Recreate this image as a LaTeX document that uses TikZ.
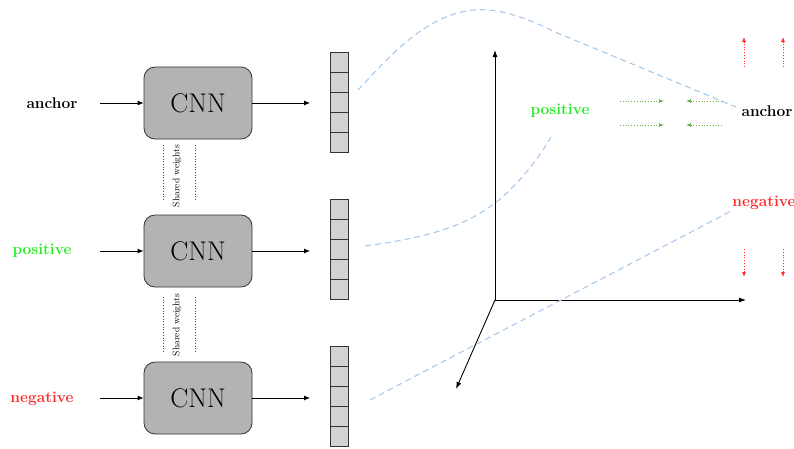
\documentclass[tikz,border=0pt]{standalone}
\usetikzlibrary{arrows.meta}
\definecolor{cnnfill}{HTML}{B3B3B3}
\definecolor{vecfill}{HTML}{D2D2D2}
\definecolor{posgreen}{HTML}{22EE22}
\definecolor{neared}{HTML}{FF2A2A}
\definecolor{dashblue}{HTML}{A9C9EA}
\definecolor{arrgreen}{HTML}{6AAF4A}
\tikzset{
  cnn/.style={draw=black!80, fill=cnnfill, rounded corners=11pt, minimum width=108pt, minimum height=72pt, line width=0.8pt, font=\fontsize{27}{30}\selectfont},
  cell/.style={draw=black!80, fill=vecfill, minimum width=18pt, minimum height=20pt, line width=0.8pt, inner sep=0pt},
  lbl/.style={font=\fontsize{15.5}{18}\selectfont\bfseries},
  flow/.style={-{Latex[length=6pt,width=5pt]}, line width=0.8pt},
  share/.style={dotted, line width=0.7pt, black!70},
  swtext/.style={rotate=90, font=\fontsize{9.5}{11}\selectfont, inner sep=0pt},
  emb/.style={dashblue, line width=1.1pt, dash pattern=on 6pt off 4pt},
  axis/.style={-{Latex[length=7pt,width=5pt]}, line width=0.9pt},
  pull/.style={dotted, arrgreen, line width=0.8pt, -{Latex[length=5pt,width=4pt]}},
  push/.style={dotted, neared, line width=0.8pt, -{Latex[length=5pt,width=4pt]}},
}
\begin{document}
\begin{tikzpicture}[x=1pt,y=-1pt]
\useasboundingbox (0,0) rectangle (794,448);
% left inputs
\node[lbl] (la) at (52,103) {anchor};
\node[lbl, posgreen] (lp) at (42,251) {positive};
\node[lbl, neared] (ln) at (42,399) {negative};
% CNN boxes
\node[cnn] (ca) at (198,103) {CNN};
\node[cnn] (cp) at (198,251) {CNN};
\node[cnn] (cn) at (198,398) {CNN};
% input arrows
\coordinate (ia) at (100,103);
\coordinate (ip) at (100,251);
\coordinate (in) at (100,398);
\draw[flow] (ia) -- (ca.west);
\draw[flow] (ip) -- (cp.west);
\draw[flow] (in) -- (cn.west);
% vectors
\foreach \v/\y in {va/62, vp/209, vn/356}{
  \foreach \i in {0,...,4}{
    \node[cell] (\v\i) at (339,\y+\i*20) {};
  }
}
\coordinate (oa) at (310,103);
\coordinate (op) at (310,251);
\coordinate (on) at (310,398);
\draw[flow] (ca.east) -- (oa);
\draw[flow] (cp.east) -- (op);
\draw[flow] (cn.east) -- (on);
% shared weights
\coordinate (s1a) at (163,145); \coordinate (s1b) at (163,200);
\coordinate (s2a) at (195,145); \coordinate (s2b) at (195,200);
\draw[share] (s1a) -- (s1b);
\draw[share] (s2a) -- (s2b);
\node[swtext] (sw1) at (177,176) {Shared weights};
\coordinate (s3a) at (163,297); \coordinate (s3b) at (163,353);
\coordinate (s4a) at (195,297); \coordinate (s4b) at (195,353);
\draw[share] (s3a) -- (s3b);
\draw[share] (s4a) -- (s4b);
\node[swtext] (sw2) at (177,325) {Shared weights};
% axes
\coordinate (O) at (495,300);
\coordinate (Ay) at (495,50);
\coordinate (Ax) at (746,300);
\coordinate (Az) at (456,389);
\draw[axis] (O) -- (Ay);
\draw[axis] (O) -- (Ax);
\draw[axis] (O) -- (Az);
% embedding labels
\node[lbl, posgreen] (ep) at (560,111) {positive};
\node[lbl] (ea) at (767,111) {anchor};
\node[lbl, neared] (en) at (764,203) {negative};
% dashed mapping curves
\coordinate (da) at (358,90);
\coordinate (dp) at (365,246);
\coordinate (dn) at (370,400);
\draw[emb] (da) .. controls (395,50) and (435,6) .. (488,10) .. controls (512,12) and (535,22) .. (555,32) -- (736,107);
\draw[emb] (dp) .. controls (440,236) and (470,222) .. (495,203) .. controls (515,188) and (538,160) .. (551,137);
\draw[emb] (dn) .. controls (430,368) and (600,280) .. (733,210);
% green pull arrows
\coordinate (g1s) at (620,101); \coordinate (g1e) at (664,101);
\coordinate (g2s) at (722,101); \coordinate (g2e) at (686,101);
\coordinate (g3s) at (620,125); \coordinate (g3e) at (664,125);
\coordinate (g4s) at (722,125); \coordinate (g4e) at (686,125);
\draw[pull] (g1s) -- (g1e);
\draw[pull] (g2s) -- (g2e);
\draw[pull] (g3s) -- (g3e);
\draw[pull] (g4s) -- (g4e);
% red push arrows
\coordinate (r1s) at (744,67); \coordinate (r1e) at (744,37);
\coordinate (r2s) at (783,67); \coordinate (r2e) at (783,37);
\coordinate (r3s) at (744,249); \coordinate (r3e) at (744,277);
\coordinate (r4s) at (783,249); \coordinate (r4e) at (783,277);
\draw[push] (r1s) -- (r1e);
\draw[push] (r2s) -- (r2e);
\draw[push] (r3s) -- (r3e);
\draw[push] (r4s) -- (r4e);
\end{tikzpicture}
\end{document}
